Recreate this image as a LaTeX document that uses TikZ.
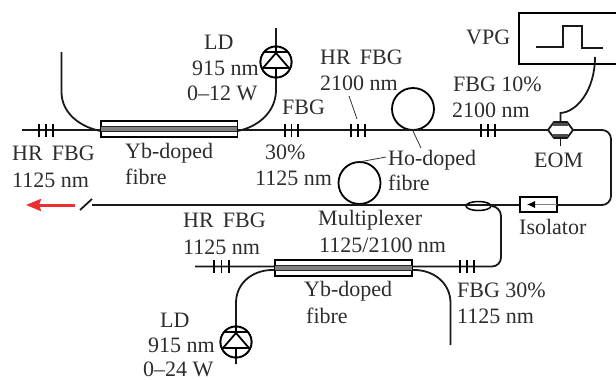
\documentclass[tikz,border=0pt]{standalone}
\usepackage{tikz}
\usepackage{xcolor}
\usepackage{fontspec}
\setmainfont{Liberation Serif}
\usetikzlibrary{shapes}
\usetikzlibrary{arrows.meta}
\definecolor{outred}{RGB}{232,48,48}
\definecolor{textgray}{RGB}{45,45,45}
\tikzset{
  fibre/.style={line width=1.8pt,black!90},
  thinline/.style={line width=0.8pt,black!80},
  tag/.style={inner sep=0pt,anchor=base west,font=\fontsize{22}{26}\selectfont,text=textgray},
  coil/.style={circle,draw,line width=1.8pt,inner sep=0pt,minimum size=42pt},
  ldcirc/.style={circle,draw,line width=1.8pt,inner sep=0pt,minimum size=31pt},
  boxed/.style={rectangle,draw,line width=1.8pt,inner sep=0pt}
}
\begin{document}
\begin{tikzpicture}[x=1pt,y=-1pt]
\useasboundingbox (0,0) rectangle (616,380);
\node [boxed,minimum width=135pt,minimum height=13.5pt] (amptop) at (169,129) {};
\node [boxed,minimum width=135pt,minimum height=13.5pt] (ampbot) at (343.5,268) {};
\node [coil] (cointop) at (413,109) {};
\node [coil] (coinbot) at (359.5,183) {};
\node [ldcirc] (ldtop) at (276,62) {};
\node [ldcirc] (ldbot) at (236,342) {};
\node [boxed,minimum width=35pt,minimum height=13pt] (iso) at (538.5,204.5) {};
\node [ellipse,draw,line width=1.5pt,inner sep=0pt,minimum width=25pt,minimum height=9pt] (mux) at (478.5,206) {};
\coordinate (topstart) at (22,130);
\coordinate (eomleft) at (548,130);
\coordinate (eomright) at (573,130);
\coordinate (topcorner) at (611,130);
\coordinate (lowcorner) at (611,205);
\coordinate (outend) at (92,205);
\coordinate (slasha) at (80,210);
\coordinate (slashb) at (92,199);
\coordinate (redstart) at (75,205);
\coordinate (redend) at (26,205);
\coordinate (pumpa) at (61.5,52);
\coordinate (pumpb) at (276,28);
\coordinate (pumpc) at (236,364);
\coordinate (pumpd) at (450.5,345);
\coordinate (botstart) at (195,266.5);
\coordinate (botright) at (501,266.5);
\coordinate (muxright) at (501,207);

\draw [fibre] (topstart) -- (eomleft);
\draw [fibre,rounded corners=9pt] (eomright) -- (topcorner) -- (lowcorner) -- (outend);
\draw [fibre,rounded corners=9pt] (botstart) -- (botright) -- (muxright) -- (mux.east);
\draw [fibre] (slasha) -- (slashb);
\draw [-{Stealth[length=15pt,width=12pt,inset=2pt]},line width=3pt,outred] (redstart) -- (redend);

\draw [fibre] (pumpa) -- (61.5,92) .. controls (61.5,113) and (80,127) .. ([yshift=-2pt]amptop.west);
\draw [fibre] (pumpb) -- (276,90) .. controls (276,112) and (258,127) .. ([yshift=-2pt]amptop.east);
\draw [fibre] (pumpc) -- (236,303) .. controls (236,282) and (254,269) .. ([yshift=-2pt]ampbot.west);
\draw [fibre] (pumpd) -- (450.5,303) .. controls (450.5,282) and (432,269) .. ([yshift=-2pt]ampbot.east);
\fill [white] (ampbot.north west) rectangle (ampbot.south east);
\fill [white] (amptop.north west) rectangle (amptop.south east);
\draw [boxed] (amptop.north west) rectangle (amptop.south east);
\draw [boxed] (ampbot.north west) rectangle (ampbot.south east);
\fill [black!50] ([yshift=2.5pt]amptop.west) rectangle ([yshift=-2.5pt]amptop.east);
\fill [black!50] ([yshift=2.5pt]ampbot.west) rectangle ([yshift=-2.5pt]ampbot.east);
\draw [line width=1.2pt,black!85] ([yshift=2.5pt]amptop.west) -- ([yshift=2.5pt]amptop.east);
\draw [line width=1.2pt,black!85] ([yshift=-2.5pt]amptop.west) -- ([yshift=-2.5pt]amptop.east);
\draw [line width=1.2pt,black!85] ([yshift=2.5pt]ampbot.west) -- ([yshift=2.5pt]ampbot.east);
\draw [line width=1.2pt,black!85] ([yshift=-2.5pt]ampbot.west) -- ([yshift=-2.5pt]ampbot.east);

\foreach \x in {39,46,53,285,291.5,298,351,358,365,481,488,495}
  \draw [line width=1.8pt] (\x,124) -- (\x,137);
\foreach \x in {214,221.5,229,460,467,474}
  \draw [line width=1.8pt] (\x,260) -- (\x,273);

\foreach \ld/\x/\y in {ldtop/276/62,ldbot/236/342}{
  \draw [line width=1.8pt,fill=white] (\ld) circle (15.5pt);
  \draw [line width=1.8pt] (\x,\y-15.5) -- (\x,\y+15.5);
  \draw [line width=1.8pt] (\x-12,\y-10) -- (\x+12,\y-10);
  \draw [line width=1.8pt,fill=white] (\x,\y-9) -- (\x-13,\y+6) -- (\x+13,\y+6) -- cycle;
}

\fill [white] (iso.north west) rectangle (iso.south east);
\draw [boxed] (iso.north west) rectangle (iso.south east);
\draw [thinline,black!50,-{Latex[length=8pt,width=7pt,black]}] (iso.east) -- (527,204.5);

\node [boxed,minimum width=120pt,minimum height=51pt,anchor=north west] (vpg) at (518,12) {};
\coordinate (pulsea) at (536,47);
\coordinate (pulseb) at (563,47);
\coordinate (pulsec) at (563,26);
\coordinate (pulsed) at (582,26);
\coordinate (pulsee) at (582,48);
\coordinate (pulsef) at (603,48);
\draw [fibre] (pulsea) -- (pulseb) -- (pulsec) -- (pulsed) -- (pulsee) -- (pulsef);

\draw [fibre,line join=round] (eomleft) -- (554,122) -- (567,122) -- (eomright) -- (567,138) -- (554,138) -- cycle;
\fill [black!70] (553,123) rectangle (568,126);
\fill [black!70] (553,134) rectangle (568,137);
\coordinate (eomlead) at (560.5,146);
\draw [fibre] (560.5,137) -- (eomlead);
\draw [fibre] (560.5,122) -- (560.5,113) .. controls (577,112) and (595,90) .. (595,57);

\draw [thinline] (349,96) -- (357,119);
\draw [thinline] (413,131) -- (421,148);
\draw [thinline] (359,162) -- (386,157);

\node [tag] (ldtoplab) at (204,49) {LD};
\node [tag] (ldtopnm) at (192,75) {915 nm};
\node [tag] (ldtopw) at (187,100) {0--12 W};
\node [tag] (hrone) at (12,160) {HR \,FBG};
\node [tag] (hronenm) at (12,187) {1125 nm};
\node [tag] (ybone) at (125,158) {Yb-doped};
\node [tag] (ybonefib) at (125,184) {fibre};
\node [tag] (fbgone) at (282,114) {FBG};
\node [tag] (fbgoneper) at (265,159) {30\%};
\node [tag] (fbgonenm) at (255,185) {1125 nm};
\node [tag] (hrtwo) at (320,64) {HR \,FBG};
\node [tag] (hrtwonm) at (320,90) {2100 nm};
\node [tag] (fbgtwo) at (453,91) {FBG 10\%};
\node [tag] (fbgtwonm) at (452,117) {2100 nm};
\node [tag] (vpglab) at (466,44) {VPG};
\node [tag] (holab) at (388,165) {Ho-doped};
\node [tag] (holabfib) at (388,190) {fibre};
\node [tag] (eomlab) at (534,167) {EOM};
\node [tag] (isolab) at (519,234) {Isolator};
\node [tag] (muxlab) at (318,225) {Multiplexer};
\node [tag] (muxlabnm) at (319,252) {1125/2100 nm};
\node [tag] (hrthree) at (183,227) {HR \,FBG};
\node [tag] (hrthreenm) at (183,254) {1125 nm};
\node [tag] (ybtwo) at (304,296) {Yb-doped};
\node [tag] (ybtwofib) at (306,323) {fibre};
\node [tag] (fbgthree) at (457,297) {FBG 30\%};
\node [tag] (fbgthreenm) at (457,323) {1125 nm};
\node [tag] (ldbotlab) at (160,327) {LD};
\node [tag] (ldbotnm) at (148,352) {915 nm};
\node [tag] (ldbotw) at (143,376) {0--24 W};
\end{tikzpicture}
\end{document}
